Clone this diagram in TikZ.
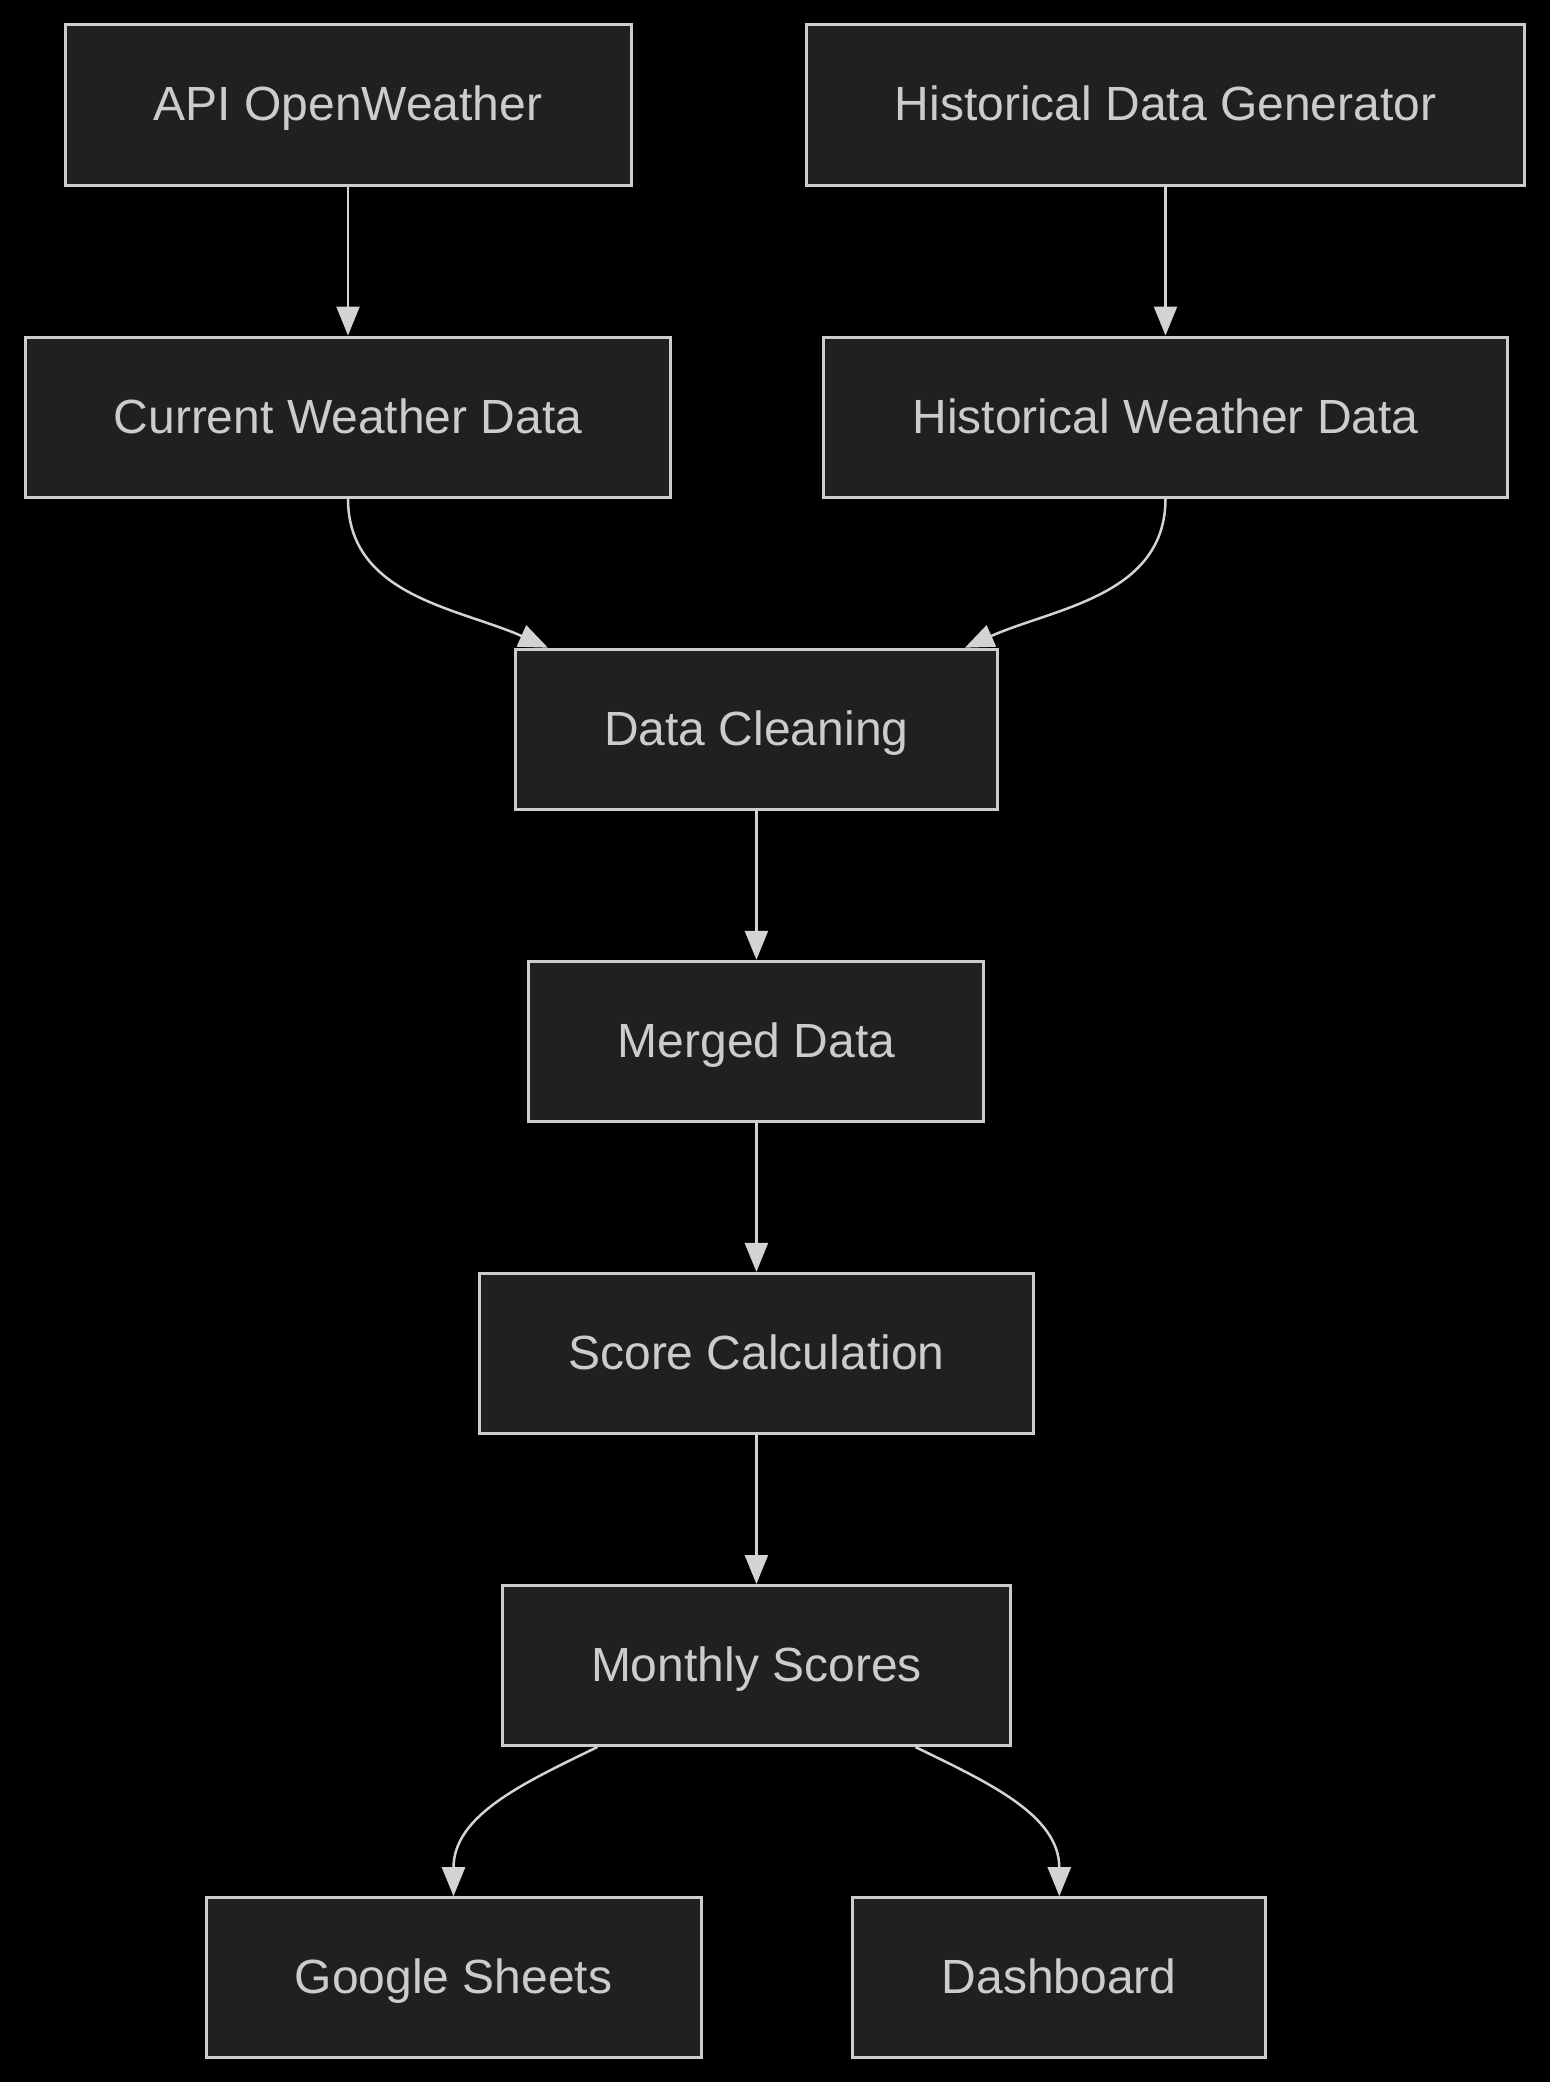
\documentclass[tikz,border=0pt]{standalone}
\usepackage{fontspec}
\setmainfont{Liberation Sans}
\usepackage{tikz}
\usetikzlibrary{arrows.meta}
\definecolor{boxfill}{HTML}{1F2020}
\definecolor{boxline}{HTML}{CCCCCC}
\definecolor{flowline}{HTML}{D3D3D3}

\begin{document}
\begin{tikzpicture}[x=1pt,y=1pt,
  stage/.style={draw=boxline,fill=boxfill,line width=3pt,minimum height=160pt,inner sep=0pt,text height=40pt,text depth=8pt,text=boxline,font=\fontsize{48}{58}\selectfont},
  flow/.style={draw=flowline,line width=2.5pt,-{Triangle[length=29pt,width=23pt]}}]
  \fill[black] (0,0) rectangle (1550,-2082);

  %sources
  \node[stage,name=api,at={(348,-105)},minimum width=566pt]{API OpenWeather};
  \node[stage,name=gen,at={(1165.5,-105)},minimum width=718pt]{Historical Data Generator};
  \node[stage,name=cur,at={(348,-417)},minimum width=645pt]{Current Weather Data};
  \node[stage,name=hist,at={(1165.5,-417)},minimum width=684pt]{Historical Weather Data};
  \draw[flow] (api) -- (cur);
  \draw[flow] (gen) -- (hist);

  %pipeline
  \node[stage,name=clean,at={(756.4,-729.2)},minimum width=482pt]{Data Cleaning};
  \node[stage,name=merged,at={(756.4,-1041.3)},minimum width=455pt]{Merged Data};
  \node[stage,name=score,at={(756.4,-1353.4)},minimum width=554pt]{Score Calculation};
  \node[stage,name=monthly,at={(756.4,-1665.5)},minimum width=508pt]{Monthly Scores};
  \draw[flow] (cur.south) to[out=-90,in=156] ([xshift=34pt]clean.north west);
  \draw[flow] (hist.south) to[out=-90,in=24] ([xshift=-34pt]clean.north east);
  \draw[flow] (clean) -- (merged);
  \draw[flow] (merged) -- (score);
  \draw[flow] (score) -- (monthly);

  %outputs
  \node[stage,name=sheets,at={(453.5,-1977.7)},minimum width=495pt]{Google Sheets};
  \node[stage,name=dash,at={(1059.3,-1977.7)},minimum width=413pt]{Dashboard};
  \draw[flow] ([xshift=-159pt]monthly.south) to[out=206,in=90] (sheets.north);
  \draw[flow] ([xshift=159pt]monthly.south) to[out=-26,in=90] (dash.north);
\end{tikzpicture}
\end{document}
